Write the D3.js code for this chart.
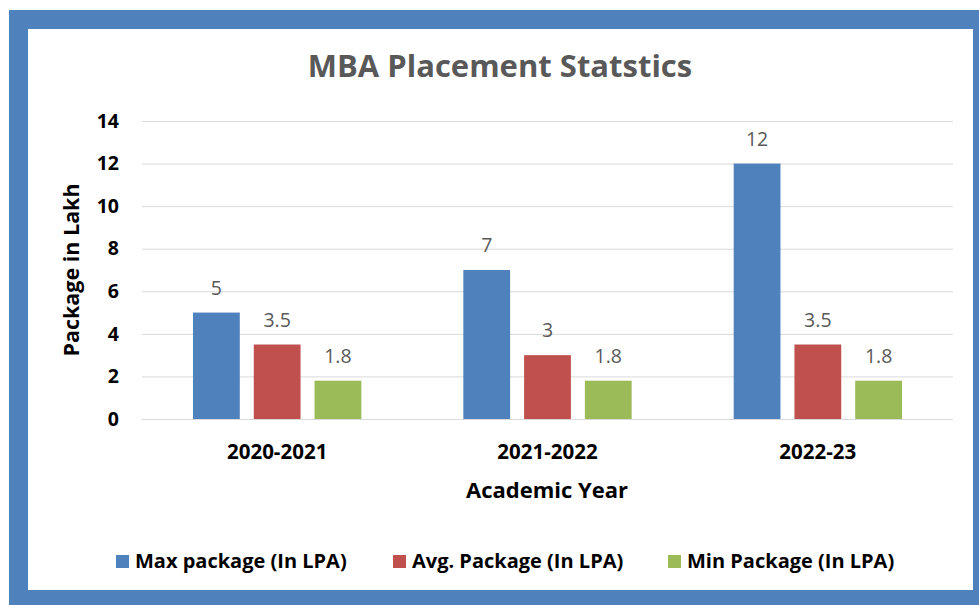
<!DOCTYPE html>
<html>
<head>
<meta charset="utf-8">
<script src="https://cdn.jsdelivr.net/npm/d3@7"></script>
<style>
  body { margin: 0; background: #fff; }
  svg { display: block; font-family: "Open Sans", Lato, sans-serif; }
</style>
</head>
<body>
<div id="chart"></div>
<script>
var years = ['2020-2021', '2021-2022', '2022-23'];
var seriesNames = ['Max package (In LPA)', 'Avg. Package (In LPA)', 'Min Package (In LPA)'];
var maxPackage = [5, 7, 12];
var avgPackage = [3.5, 3, 3.5];
var minPackage = [1.8, 1.8, 1.8];
var colors = ['#4f81bd', '#c0504d', '#9bbb59'];
var yTicks = [0, 2, 4, 6, 8, 10, 12, 14];

var W = 979, H = 605;
var series = [maxPackage, avgPackage, minPackage];
var FONT = '"Open Sans", Lato, sans-serif';

var svg = d3.select('#chart')
    .append('svg')
    .attr('width', W)
    .attr('height', H);

// frame
svg.append('rect')
    .attr('x', 9).attr('y', 10)
    .attr('width', 970).attr('height', 595)
    .attr('fill', '#4f81bd');
svg.append('rect')
    .attr('x', 28).attr('y', 29)
    .attr('width', 945).attr('height', 561)
    .attr('fill', '#fff');

var plot = { left: 142, right: 953, top: 121, bottom: 419 };

var x = d3.scaleBand()
    .domain(years)
    .range([plot.left, plot.right]);
var xInner = d3.scaleBand()
    .domain(d3.range(series.length))
    .range([51, x.bandwidth() - 51])
    .paddingInner(0.23);
var y = d3.scaleLinear()
    .domain([0, 14])
    .range([plot.bottom, plot.top]);

svg.append('text')
    .attr('x', 500).attr('y', 77)
    .attr('text-anchor', 'middle')
    .attr('fill', '#595959')
    .attr('font-weight', 'bold')
    .attr('font-size', 31)
    .text('MBA Placement Statstics');

var yAxis = svg.append('g')
    .attr('transform', 'translate(' + plot.left + ',0)')
    .call(d3.axisLeft(y).tickValues(yTicks).tickSize(-(plot.right - plot.left)).tickPadding(23));
yAxis.select('.domain').remove();
yAxis.selectAll('line').attr('stroke', '#d9d9d9');
yAxis.selectAll('text')
    .attr('font-family', FONT)
    .attr('font-size', 19.5)
    .attr('font-weight', 'bold')
    .attr('fill', '#000');

var xAxis = svg.append('g')
    .attr('transform', 'translate(0,' + plot.bottom + ')')
    .call(d3.axisBottom(x).tickSize(0).tickPadding(25));
xAxis.select('.domain').remove();
xAxis.selectAll('text')
    .attr('font-family', FONT)
    .attr('font-size', 20.5)
    .attr('font-weight', 'bold')
    .attr('fill', '#000');

svg.append('text')
    .attr('x', 547).attr('y', 498)
    .attr('text-anchor', 'middle')
    .attr('font-weight', 'bold')
    .attr('font-size', 22)
    .text('Academic Year');

svg.append('text')
    .attr('transform', 'translate(79,' + ((plot.top + plot.bottom) / 2) + ') rotate(-90)')
    .attr('text-anchor', 'middle')
    .attr('font-weight', 'bold')
    .attr('font-size', 21.5)
    .text('Package in Lakh');

var groups = svg.selectAll('.group')
    .data(years)
    .enter()
    .append('g')
    .attr('class', 'group')
    .attr('transform', function (d) { return 'translate(' + x(d) + ',0)'; });

groups.each(function (yr, gi) {
    var g = d3.select(this);
    series.forEach(function (s, si) {
        g.append('rect')
            .attr('x', xInner(si))
            .attr('y', y(s[gi]))
            .attr('width', xInner.bandwidth())
            .attr('height', y(0) - y(s[gi]))
            .attr('fill', colors[si]);
        g.append('text')
            .attr('x', xInner(si) + xInner.bandwidth() / 2)
            .attr('y', y(s[gi]) - 18)
            .attr('text-anchor', 'middle')
            .attr('font-size', 19.5)
            .attr('fill', '#595959')
            .text(s[gi]);
    });
});

var legendX = [116, 393, 668];
var legend = svg.selectAll('.legend')
    .data(seriesNames)
    .enter()
    .append('g')
    .attr('class', 'legend')
    .attr('transform', function (d, i) { return 'translate(' + legendX[i] + ',555)'; });
legend.append('rect')
    .attr('width', 13).attr('height', 13)
    .attr('fill', function (d, i) { return colors[i]; });
legend.append('text')
    .attr('x', 19).attr('y', 12.5)
    .attr('font-size', 20)
    .attr('font-weight', 'bold')
    .text(function (d) { return d; });
</script>
</body>
</html>
